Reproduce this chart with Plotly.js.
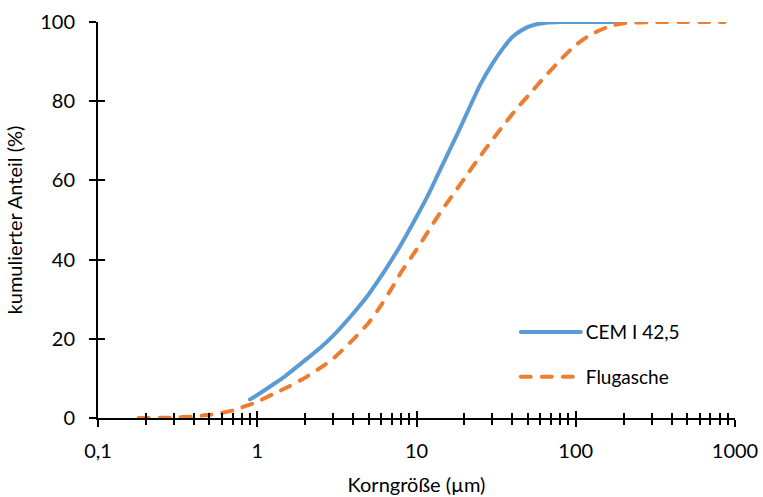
<!DOCTYPE html>
<html>
<head>
<meta charset="utf-8">
<script src="https://cdn.plot.ly/plotly-3.0.1.min.js"></script>
<style>
  html, body { margin: 0; padding: 0; background: #fff; }
  #chart { width: 763px; height: 497px; }
  .scatterlayer .js-line, .legendlines path { stroke-linecap: round; }
</style>
</head>
<body>
<div id="chart"></div>
<script>
// Cumulative particle size distribution (Korngrößenverteilung)
const cemSize = [0.9, 1, 1.25, 1.5, 2, 2.5, 3, 4, 5, 6, 7, 8, 10, 12, 15, 18, 20, 25, 30, 35, 40, 47, 55, 65, 80, 100, 180];
const cemPassing = [4.7, 5.8, 8.4, 10.6, 14.6, 17.8, 20.8, 26.4, 31.2, 35.8, 40.0, 43.8, 50.8, 56.8, 65.0, 71.6, 75.6, 84.0, 89.5, 93.4, 96.2, 98.2, 99.3, 99.8, 100, 100, 100];

const flySize = [0.18, 0.25, 0.3, 0.4, 0.5, 0.6, 0.7, 0.8, 0.9, 1, 1.25, 1.5, 2, 2.5, 3, 4, 5, 6, 7, 8, 10, 12, 14, 17, 20, 25, 30, 35, 42, 50, 64, 80, 100, 125, 165, 200, 300, 500, 860];
const flyPassing = [0, 0.05, 0.1, 0.4, 0.8, 1.3, 1.9, 2.7, 3.4, 4.1, 6.0, 7.5, 10.2, 12.7, 15.0, 19.8, 24.0, 28.5, 32.8, 36.8, 42.5, 47.5, 51.7, 56.5, 60.5, 66.0, 70.3, 73.8, 77.8, 81.3, 86.2, 90.4, 94.2, 96.9, 99.0, 99.7, 100, 100, 100];

const seriesNames = ['CEM I 42,5', 'Flugasche'];

const xTickVals = [0.1, 1, 10, 100, 1000];
const xTickText = ['0,1', '1', '10', '100', '1000'];
const yTickVals = [0, 20, 40, 60, 80, 100];
const yTickText = ['0', '20', '40', '60', '80', '100'];

// minor ticks 2..9 in every decade
const minorVals = [];
for (let d = 0.1; d < 1000; d *= 10) {
  for (let k = 2; k <= 9; k++) minorVals.push(+(k * d).toPrecision(3));
}

const FONT = 'Lato, "Open Sans", sans-serif';
const BLUE = '#5B9BD5';
const ORANGE = '#ED7D31';

const traces = [
  {
    x: cemSize, y: cemPassing, name: seriesNames[0],
    type: 'scatter', mode: 'lines',
    line: { color: BLUE, width: 4, shape: 'spline', smoothing: 0.5 },
    legend: 'legend', hoverinfo: 'x+y'
  },
  {
    x: flySize, y: flyPassing, name: seriesNames[1],
    type: 'scatter', mode: 'lines',
    line: { color: ORANGE, width: 4, dash: '10px,11px', shape: 'spline', smoothing: 0.5 },
    legend: 'legend2', hoverinfo: 'x+y'
  },
  // draws nothing; only makes the overlay axes (inner half of the crossing ticks) exist
  { x: cemSize, y: cemPassing, xaxis: 'x2', yaxis: 'y2', type: 'scatter', mode: 'none', showlegend: false, hoverinfo: 'skip' }
];

const axisCommon = {
  showgrid: false, zeroline: false,
  tickcolor: '#000', tickwidth: 2
};

const layout = {
  width: 763, height: 497,
  margin: { l: 98, r: 28, t: 22, b: 79 },
  paper_bgcolor: '#fff', plot_bgcolor: '#fff',
  font: { family: FONT, color: '#000' },
  xaxis: Object.assign({}, axisCommon, {
    type: 'log', range: [-1, 3],
    tickmode: 'array', tickvals: xTickVals, ticktext: xTickText,
    ticks: 'outside', ticklen: 7,
    minor: { tickmode: 'array', tickvals: minorVals, ticks: 'outside', ticklen: 5, tickwidth: 2, tickcolor: '#000', showgrid: false },
    showline: true, linecolor: '#000', linewidth: 2,
    tickfont: { family: FONT, size: 20, color: '#000' },
    ticklabelstandoff: 7,
    title: { text: 'Korngröße (µm)', font: { family: FONT, size: 20, color: '#000' }, standoff: 17 }
  }),
  yaxis: Object.assign({}, axisCommon, {
    range: [0, 100],
    tickmode: 'array', tickvals: yTickVals, ticktext: yTickText,
    ticks: 'outside', ticklen: 7,
    showline: true, linecolor: '#000', linewidth: 2,
    tickfont: { family: FONT, size: 20, color: '#000' },
    ticklabelstandoff: 10,
    title: { text: 'kumulierter Anteil (%)', font: { family: FONT, size: 20, color: '#000' }, standoff: 12 }
  }),
  xaxis2: Object.assign({}, axisCommon, {
    type: 'log', range: [-1, 3], overlaying: 'x', anchor: 'y', side: 'bottom',
    tickmode: 'array', tickvals: xTickVals, showticklabels: false,
    ticks: 'inside', ticklen: 7,
    minor: { tickmode: 'array', tickvals: minorVals, ticks: 'inside', ticklen: 5, tickwidth: 2, tickcolor: '#000', showgrid: false },
    showline: false
  }),
  yaxis2: Object.assign({}, axisCommon, {
    range: [0, 100], overlaying: 'y', anchor: 'x', side: 'left',
    tickmode: 'array', tickvals: yTickVals, showticklabels: false,
    ticks: 'inside', ticklen: 7, showline: false
  }),
  legend: {
    x: 0.703, y: 0.217, xanchor: 'left', yanchor: 'middle',
    bgcolor: 'rgba(0,0,0,0)', borderwidth: 0,
    font: { family: FONT, size: 19, color: '#000' }
  },
  legend2: {
    x: 0.703, y: 0.1035, xanchor: 'left', yanchor: 'middle',
    bgcolor: 'rgba(0,0,0,0)', borderwidth: 0,
    font: { family: FONT, size: 19, color: '#000' }
  },
  showlegend: true
};

// stretch the legend line samples to 60px, ending just before the label
function stretchLegendLines(gd) {
  gd.querySelectorAll('.scrollbox').forEach(function (g) {
    g.removeAttribute('clip-path');
  });
  gd.querySelectorAll('.legendlines path').forEach(function (p) {
    p.setAttribute('d', 'M-25,0h60');
  });
}

const gd = document.getElementById('chart');
Plotly.newPlot(gd, traces, layout, { displayModeBar: false, staticPlot: true }).then(function () {
  stretchLegendLines(gd);
  gd.on('plotly_afterplot', function () { stretchLegendLines(gd); });
});
</script>
</body>
</html>
